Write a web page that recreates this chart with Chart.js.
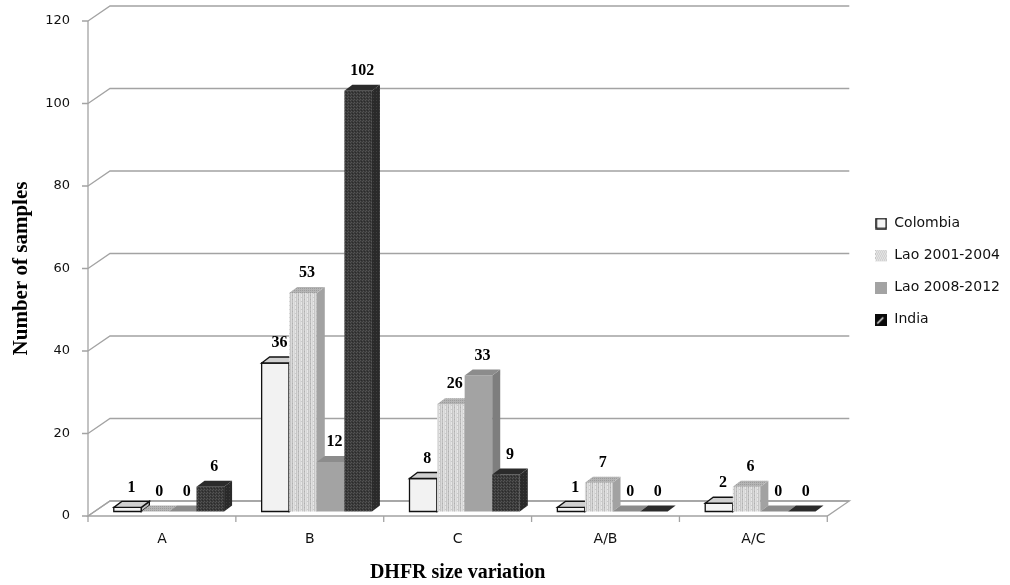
<!DOCTYPE html>
<html>
<head>
<meta charset="utf-8">
<script src="https://cdn.jsdelivr.net/npm/chart.js@4.4.0/dist/chart.umd.min.js"></script>
<style>
  html, body { margin: 0; padding: 0; background: #fff; }
  #wrap { width: 1010px; height: 585px; }
</style>
</head>
<body>
<div id="wrap"><canvas id="chart"></canvas></div>
<script>
// data
const categories = ['A', 'B', 'C', 'A/B', 'A/C'];
const colombia = [1, 36, 8, 1, 2];
const lao0104 = [0, 53, 26, 7, 6];
const lao0812 = [0, 12, 33, 0, 0];
const india = [6, 102, 9, 0, 0];
const seriesNames = ['Colombia', 'Lao 2001-2004', 'Lao 2008-2012', 'India'];
const yTicks = [0, 20, 40, 60, 80, 100, 120];

// 3d look
const WALL_DX = 22, WALL_DY = -15;
const BAR_DX = 8, BAR_DY = -6;
const SHIFT_X = 7, SHIFT_Y = -4.5;
const GRID = '#a3a3a3';

function makeCanvas(w, h, paint) {
    const c = document.createElement('canvas');
    c.width = w; c.height = h;
    paint(c.getContext('2d'), w, h);
    return c;
}

function pattern(w, h, paint) {
    const c = makeCanvas(w, h, paint);
    return document.createElement('canvas').getContext('2d').createPattern(c, 'repeat');
}

// fills for each series: front, top, side
const stripeCols = ['#d6d6d6', '#e6e6e6', '#c6c6c6', '#dadada', '#bdbdbd', '#e0e0e0'];
const fills = [
    { front: '#f2f2f2', top: '#d0d0d0', side: '#bdbdbd', stroke: '#111' },
    {
        front: pattern(6, 4, (g, w, h) => {
            stripeCols.forEach((c, i) => { g.fillStyle = c; g.fillRect(i, 0, 1, h); });
            g.fillStyle = 'rgba(150,150,150,0.35)'; g.fillRect(1, 1, 1, 1); g.fillRect(4, 3, 1, 1);
        }),
        top: pattern(2, 2, (g) => {
            g.fillStyle = '#b4b4b4'; g.fillRect(0, 0, 2, 2);
            g.fillStyle = '#9c9c9c'; g.fillRect(0, 0, 1, 1);
        }),
        side: '#a2a2a2', stroke: null
    },
    { front: '#a3a3a3', top: '#8c8c8c', side: '#7e7e7e', stroke: null },
    {
        front: pattern(3, 3, (g) => {
            g.fillStyle = '#3a3a3a'; g.fillRect(0, 0, 3, 3);
            g.fillStyle = '#545454'; g.fillRect(0, 0, 1, 1); g.fillRect(2, 1, 1, 1);
            g.fillStyle = '#2a2a2a'; g.fillRect(1, 2, 1, 1);
        }),
        top: '#2b2b2b',
        side: pattern(3, 3, (g) => {
            g.fillStyle = '#2a2a2a'; g.fillRect(0, 0, 3, 3);
            g.fillStyle = '#3e3e3e'; g.fillRect(1, 1, 1, 1);
        }),
        stroke: null
    }
];

// legend icons
const legendIcons = [
    makeCanvas(12, 12, (g) => {
        g.fillStyle = '#f4f4f4'; g.fillRect(1, 1, 10, 10);
        g.strokeStyle = '#000'; g.lineWidth = 1.4; g.strokeRect(1, 1, 10, 10);
    }),
    makeCanvas(12, 12, (g) => {
        g.fillStyle = '#f0f0f0'; g.fillRect(0, 0, 12, 12);
        g.fillStyle = '#9a9a9a';
        for (let i = 0; i < 12; i += 2) {
            for (let j = 0; j < 12; j += 2) g.fillRect(i + (j % 4 ? 1 : 0), j, 1, 1);
        }
    }),
    makeCanvas(12, 12, (g) => { g.fillStyle = '#a3a3a3'; g.fillRect(0, 0, 12, 12); }),
    makeCanvas(12, 12, (g) => {
        g.fillStyle = '#0a0a0a'; g.fillRect(0, 0, 12, 12);
        g.strokeStyle = '#fff'; g.lineWidth = 1.3;
        g.beginPath(); g.moveTo(2, 10); g.lineTo(8, 4); g.stroke();
    })
];

const seriesData = [colombia, lao0104, lao0812, india];

function poly(ctx, pts, fill, stroke) {
    ctx.beginPath();
    ctx.moveTo(pts[0][0], pts[0][1]);
    for (let k = 1; k < pts.length; k++) ctx.lineTo(pts[k][0], pts[k][1]);
    ctx.closePath();
    ctx.fillStyle = fill;
    ctx.fill();
    if (stroke) { ctx.strokeStyle = stroke; ctx.lineWidth = 1.3; ctx.stroke(); }
}

// walls, floor, 3d bars and value labels
const bars3d = {
    id: 'bars3d',
    beforeDatasetsDraw(chart) {
        const { ctx, chartArea: a, scales: { x, y } } = chart;
        ctx.save();
        ctx.lineWidth = 1.4;
        ctx.strokeStyle = GRID;

        // floor
        poly(ctx, [[a.left, a.bottom], [a.right, a.bottom],
            [a.right + WALL_DX, a.bottom + WALL_DY], [a.left + WALL_DX, a.bottom + WALL_DY]], '#fff', GRID);

        // back wall gridlines + side wall diagonals
        y.ticks.forEach(t => {
            const py = y.getPixelForValue(t.value);
            ctx.beginPath();
            ctx.moveTo(a.left, py);
            ctx.lineTo(a.left + WALL_DX, py + WALL_DY);
            ctx.lineTo(a.right + WALL_DX, py + WALL_DY);
            ctx.moveTo(a.left - 6, py);
            ctx.lineTo(a.left, py);
            ctx.stroke();
        });

        // front axis line
        ctx.beginPath();
        ctx.moveTo(a.left, a.top);
        ctx.lineTo(a.left, a.bottom);
        ctx.stroke();

        // category ticks
        for (let i = 0; i <= categories.length; i++) {
            const px = x.getPixelForValue(i - 0.5);
            ctx.beginPath();
            ctx.moveTo(px, a.bottom);
            ctx.lineTo(px, a.bottom + 6);
            ctx.stroke();
        }

        // bars, category by category, left to right
        const metas = seriesData.map((_, i) => chart.getDatasetMeta(i));
        for (let j = 0; j < categories.length; j++) {
            metas.forEach((meta, i) => {
                const el = meta.data[j];
                const f = fills[i];
                const l = el.x - el.width / 2 + SHIFT_X;
                const r = el.x + el.width / 2 + SHIFT_X;
                const t = el.y + SHIFT_Y;
                const b = el.base + SHIFT_Y;
                if (b - t > 0.5) poly(ctx, [[l, t], [r, t], [r, b], [l, b]], f.front, f.stroke);
                poly(ctx, [[r, t], [r + BAR_DX, t + BAR_DY], [r + BAR_DX, b + BAR_DY], [r, b]], f.side, f.stroke);
                poly(ctx, [[l, t], [r, t], [r + BAR_DX, t + BAR_DY], [l + BAR_DX, t + BAR_DY]], f.top, f.stroke);
            });
        }

        // value labels
        ctx.fillStyle = '#000';
        ctx.font = 'bold 16px "Liberation Serif", "Times New Roman", serif';
        ctx.textAlign = 'center';
        ctx.textBaseline = 'middle';
        metas.forEach((meta, i) => {
            meta.data.forEach((el, j) => {
                ctx.fillText(String(seriesData[i][j]), el.x + SHIFT_X + 4, el.y + SHIFT_Y - 20);
            });
        });

        ctx.restore();
        return false;
    }
};

const chart = new Chart(document.getElementById('chart'), {
    type: 'bar',
    data: {
        labels: categories,
        datasets: seriesData.map((d, i) => ({
            label: seriesNames[i],
            data: d,
            backgroundColor: '#999',
            pointStyle: legendIcons[i],
            categoryPercentage: 0.746,
            barPercentage: 1
        }))
    },
    options: {
        responsive: true,
        maintainAspectRatio: false,
        animation: false,
        events: [],
        layout: { padding: { top: 21, right: 0, bottom: 0, left: 0 } },
        plugins: {
            tooltip: { enabled: false },
            legend: {
                position: 'right',
                fullSize: false,
                title: {
                    display: true,
                    text: ' ',
                    padding: 0,
                    font: { size: 5, lineHeight: 1.2 }
                },
                labels: {
                    usePointStyle: true,
                    boxWidth: 12,
                    boxHeight: 12,
                    padding: 18,
                    color: '#111',
                    font: { family: '"DejaVu Sans", sans-serif', size: 14 }
                }
            }
        },
        scales: {
            x: {
                grid: { display: false, drawTicks: false },
                border: { display: false },
                ticks: {
                    padding: 15,
                    color: '#111',
                    font: { family: '"DejaVu Sans", sans-serif', size: 14 }
                },
                title: {
                    display: true,
                    text: 'DHFR size variation',
                    color: '#000',
                    padding: { top: 0, bottom: 0 },
                    font: { family: '"Liberation Serif", "Times New Roman", serif', size: 20, weight: 'bold' }
                },
                afterFit(s) { s.height = 69; }
            },
            y: {
                min: 0,
                max: 120,
                afterBuildTicks(s) { s.ticks = yTicks.map(v => ({ value: v })); },
                grid: { display: false, drawTicks: true, tickLength: 18 },
                border: { display: false },
                ticks: {
                    padding: 0,
                    color: '#111',
                    font: { family: '"DejaVu Sans", sans-serif', size: 13 }
                },
                title: {
                    display: true,
                    text: 'Number of samples',
                    color: '#000',
                    padding: { top: 9, bottom: 0 },
                    font: { family: '"Liberation Serif", "Times New Roman", serif', size: 21, weight: 'bold' }
                },
                afterFit(s) { s.width = 88; }
            },
            gap: {
                type: 'linear',
                position: 'right',
                display: true,
                grid: { display: false, drawTicks: false },
                border: { display: false },
                ticks: { display: false },
                afterFit(s) { s.width = 30; }
            }
        }
    },
    plugins: [bars3d]
});
</script>
</body>
</html>
